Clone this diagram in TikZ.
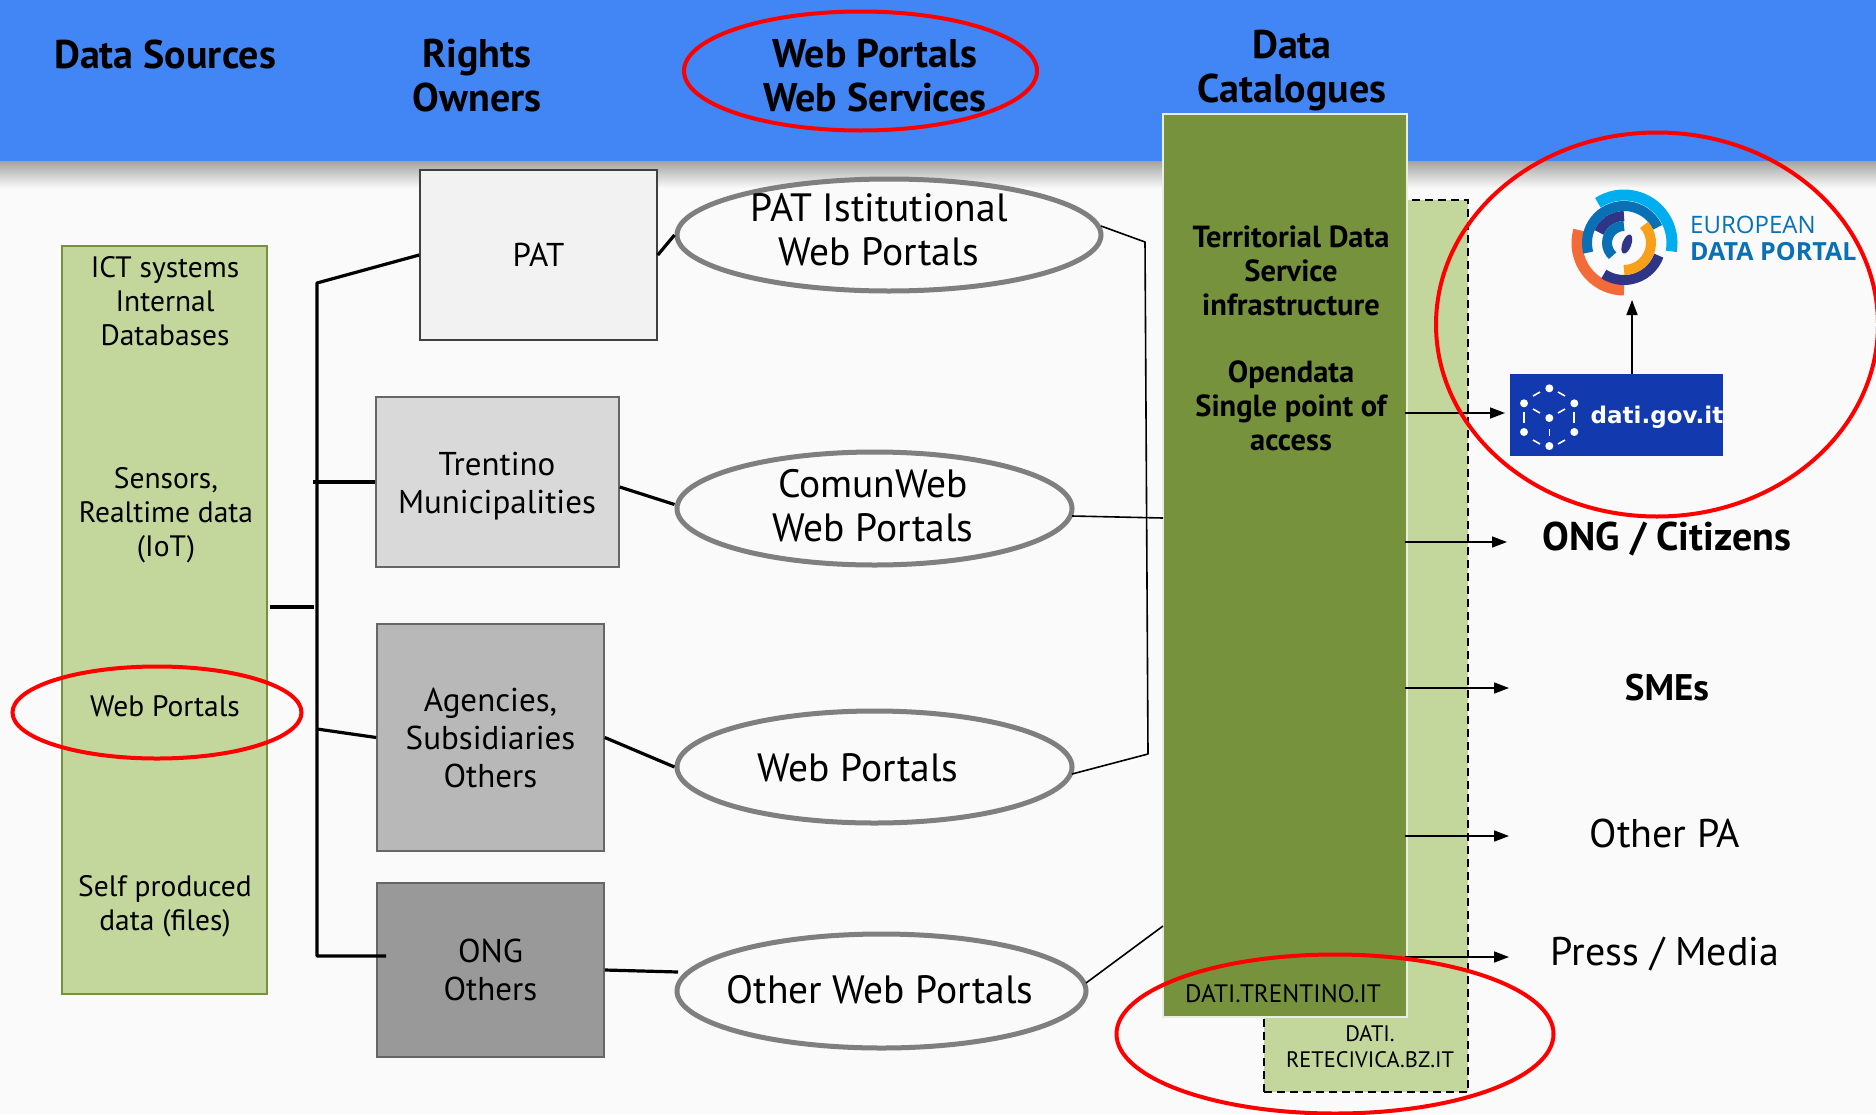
\documentclass[tikz,border=0pt]{standalone}
\usepackage{fontspec}
\setmainfont{PT Sans}
\newfontfamily\logofont{Open Sans}
\newfontfamily\datifont{DejaVu Sans}
\usetikzlibrary{shapes.geometric,arrows.meta}
\definecolor{bgc}{HTML}{FAFAFA}
\definecolor{headc}{HTML}{4285F4}
\definecolor{lightg}{HTML}{C3D69B}
\definecolor{darkg}{HTML}{76923C}
\definecolor{ringc}{HTML}{7F7F7F}
\definecolor{cyanl}{HTML}{00AEEF}
\definecolor{bluel}{HTML}{0A70B5}
\definecolor{navyl}{HTML}{2E3586}
\definecolor{redl}{HTML}{F26B38}
\definecolor{orl}{HTML}{F9A01B}
\definecolor{datic}{HTML}{1239AE}
\newcommand{\fsz}[2]{\fontsize{#1pt}{#2pt}\selectfont}
\tikzset{
 ownerbox/.style={draw=#1,line width=1.6pt,inner sep=0pt,align=center,font=\fsz{33}{38}},
 portal/.style={ellipse,draw=ringc,line width=5pt,fill=bgc,inner sep=0pt,align=center},
 headt/.style={align=center,font=\fsz{40}{44}\bfseries,inner sep=0pt},
 srct/.style={align=center,font=\fsz{29.5}{34},inner sep=0pt},
 bigt/.style={align=center,font=\fsz{39.5}{44},inner sep=0pt},
 catt/.style={align=center,font=\fsz{27}{34},inner sep=0pt},
 usert/.style={align=center,font=\fsz{40}{44},inner sep=0pt},
 thick3/.style={line width=3.2pt,line join=round},
 thin1/.style={line width=1.6pt,line join=round},
 flow/.style={line width=1.6pt,-{Triangle[length=15pt,width=11pt]}},
 redring/.style={ellipse,draw=red,line width=4pt,inner sep=0pt},
}
\begin{document}
\begin{tikzpicture}[x=1pt,y=-1pt]
\useasboundingbox (0,0) rectangle (1876,1114);
\fill[bgc] (0,0) rectangle (1876,1114);
\shade[top color=black!35!bgc,bottom color=bgc] (0,161) rectangle (1876,188);
\fill[headc] (0,0) rectangle (1876,161);
% source box
\node[draw=darkg,fill=lightg,line width=2pt,minimum width=205pt,minimum height=748pt,inner sep=0pt] (src) at (164.5,620) {};
\node[srct] (s1) at (165,301) {ICT systems\\Internal\\Databases};
\node[srct] (s2) at (166,515) {Sensors,\\Realtime data\\(IoT)};
\node[srct] (s3) at (165,706) {Web Portals};
\node[srct] (s4) at (165,906) {Self produced\\data (files)};
% owners
\node[ownerbox=black!75,fill=black!5,minimum width=237pt,minimum height=170pt] (pat) at (538.5,255) {PAT};
\node[ownerbox=black!60,fill=black!15,minimum width=243pt,minimum height=170pt] (tre) at (497.5,482) {};
\node[inner sep=0pt,align=center,font=\fsz{33}{38}] (tret) at (497,486) {Trentino\\Municipalities};
\node[ownerbox=black!60,fill=black!28,minimum width=227pt,minimum height=227pt] (age) at (490.5,737.5) {Agencies,\\Subsidiaries\\Others};
\node[ownerbox=black!60,fill=black!40,minimum width=227pt,minimum height=174pt] (ngo) at (490.5,970) {ONG\\Others};
% portals
\node[portal,minimum width=424pt,minimum height=112pt] (ep) at (889,235) {};
\node[portal,minimum width=395pt,minimum height=113pt] (ec) at (874.5,508.5) {};
\node[portal,minimum width=395pt,minimum height=112pt] (ew) at (874.5,767) {};
\node[portal,minimum width=409pt,minimum height=114pt] (eo) at (881.5,991) {};
\node[bigt] (tp) at (879,230) {PAT Istitutional\\Web Portals};
\node[bigt] (tc) at (873,506) {ComunWeb\\Web Portals};
\node[bigt] (tw) at (858,768) {Web Portals};
\node[bigt] (to) at (880,990) {Other Web Portals};
% catalogues
\node[draw=black,dash pattern=on 8pt off 5pt,fill=lightg,line width=1.8pt,minimum width=204pt,minimum height=892pt,inner sep=0pt] (bz) at (1366,646) {};
\node[draw=bgc!70!lightg,fill=darkg,line width=2pt,minimum width=244pt,minimum height=903pt,inner sep=0pt] (cat) at (1285,565.5) {};
\node[catt,font=\fsz{30.5}{34}\bfseries] (c1) at (1291,271) {Territorial Data\\Service\\infrastructure};
\node[catt,font=\fsz{30.5}{34}\bfseries] (c2) at (1291,406) {Opendata\\Single point of\\access};
\node[catt,font=\fsz{25.2}{30}] (c3) at (1283,994) {DATI.TRENTINO.IT};
\node[catt,font=\fsz{22.4}{26}] (c4) at (1370,1047) {DATI.\\RETECIVICA.BZ.IT};
% headers
\node[headt] (h1) at (165,54) {Data Sources};
\node[headt] (h2) at (477,76) {Rights\\Owners};
\node[headt] (h3) at (875,76) {Web Portals\\Web Services};
\node[headt] (h4) at (1292,71) {Data\\Catalogues};
% users
\node[usert,font=\fsz{40}{44}\bfseries] (u1) at (1667,539) {ONG / Citizens};
\node[usert,font=\fsz{37}{44}\bfseries] (u2) at (1667,688) {SMEs};
\node[usert] (u3) at (1665,833) {Other PA};
\node[usert] (u4) at (1665,954) {Press / Media};
% dati
\node[fill=datic,minimum width=213pt,minimum height=82pt,inner sep=0pt] (dati) at (1616.5,415) {};
\node[inner sep=0pt,text=white,font=\datifont\fsz{23}{30}\bfseries] (datit) at (1657,417) {dati.gov.it};
\foreach \x/\y in {1549.3/388.3,1574.3/403.3,1574.3/432,1549.3/446,1524/432,1524/403.3,1549.3/418}
  \fill[white] (\x,\y) circle (4pt);
\foreach \p/\q/\r/\s in {1533/396/1540/392,1558/392/1565/396,1574/412/1574/423,1565/440/1558/444,1540/444/1533/440,1524/412/1524/423,1533/409/1540/413,1558/413/1565/409,1549.3/429/1549.3/436}
  \draw[white,line width=1.6pt] (\p,\q) -- (\r,\s);
% logo
\coordinate (logoc) at (1624,243);
\begin{scope}[shift={(logoc)},x=1pt,y=1pt]
 \draw[cyanl,line width=11pt] (123:48) arc[start angle=123,end angle=-10,radius=48];
 \draw[redl,line width=11pt] (164:47) arc[start angle=164,end angle=270,radius=47];
 \draw[bluel,line width=10pt] (195:37) arc[start angle=195,end angle=25,radius=37];
 \draw[navyl,line width=10pt] (-20:37) arc[start angle=-20,end angle=-123,radius=37];
 \draw[navyl,line width=10pt] (90:27) arc[start angle=90,end angle=157,radius=27];
 \draw[orl,line width=10pt] (42:27) arc[start angle=42,end angle=-90,radius=27];
 \draw[bluel,line width=10pt] (90:17) arc[start angle=90,end angle=228,radius=17];
 \fill[navyl,rotate=-20] (3,0) ellipse (4.5 and 10);
\end{scope}
\node[anchor=west,inner sep=0pt,text=bluel,font=\logofont\fsz{24}{30}] (eu1) at (1690,225) {EUROPEAN};
\node[anchor=west,inner sep=0pt,text=bluel,font=\logofont\fsz{25}{30}\bfseries] (eu2) at (1690,252) {DATA PORTAL};
\coordinate (logob) at (1632,300);
% thick connectors
\coordinate (jt) at (317,283);
\coordinate (jb) at (317,956);
\coordinate (jm) at (314,607);
\coordinate (jt2) at (313,482);
\coordinate (ja) at (317,729);
\coordinate (jn) at (386,956);
\coordinate (js) at (270,607);
\coordinate (eot) at (678,972);
\draw[thick3] (pat.west) -- (jt) -- (jb) -- (jn);
\draw[thick3] (jt2) -- (tre.west);
\draw[thick3] (ja) -- (age.west);
\draw[thick3] (js) -- (jm);
\draw[thick3] (pat.east) -- (ep.west);
\draw[thick3] ([yshift=-5pt]tre.east) -- ([yshift=4pt]ec.west);
\draw[thick3] (age.east) -- (ew.west);
\draw[thick3] (ngo.east) -- (eot);
% thin connectors
\coordinate (b1) at (1145,242);
\coordinate (b2) at (1148,754);
\coordinate (cw1) at (1163,518);
\coordinate (cw2) at (1163,926);
\coordinate (b3) at (1072,774);
\coordinate (e1) at (1101,226);
\coordinate (e2) at (1072,516);
\coordinate (e3) at (1086,983);
\draw[thin1] (e1) -- (b1) -- (b2) -- (b3);
\draw[thin1] (e2) -- (cw1);
\draw[thin1] (e3) -- (cw2);
% arrows
\coordinate (ce) at ([xshift=-3pt]cat.east);
\draw[flow] (ce |- 0,413) -- (1505,413);
\draw[flow] (dati.north -| logob) -- (logob);
\draw[flow] (ce |- 0,542) -- (1507,542);
\draw[flow] (ce |- 0,688) -- (1509,688);
\draw[flow] (ce |- 0,836) -- (1509,836);
\draw[flow] (ce |- 0,957) -- (1509,957);
% red rings
\node[redring,minimum width=353pt,minimum height=119pt] (r1) at (860.5,71) {};
\node[redring,minimum width=289pt,minimum height=92pt] (r2) at (157,712.5) {};
\node[redring,minimum width=442pt,minimum height=384pt] (r3) at (1657,324.5) {};
\node[redring,minimum width=437pt,minimum height=159pt] (r4) at (1335,1034) {};
\end{tikzpicture}
\end{document}
